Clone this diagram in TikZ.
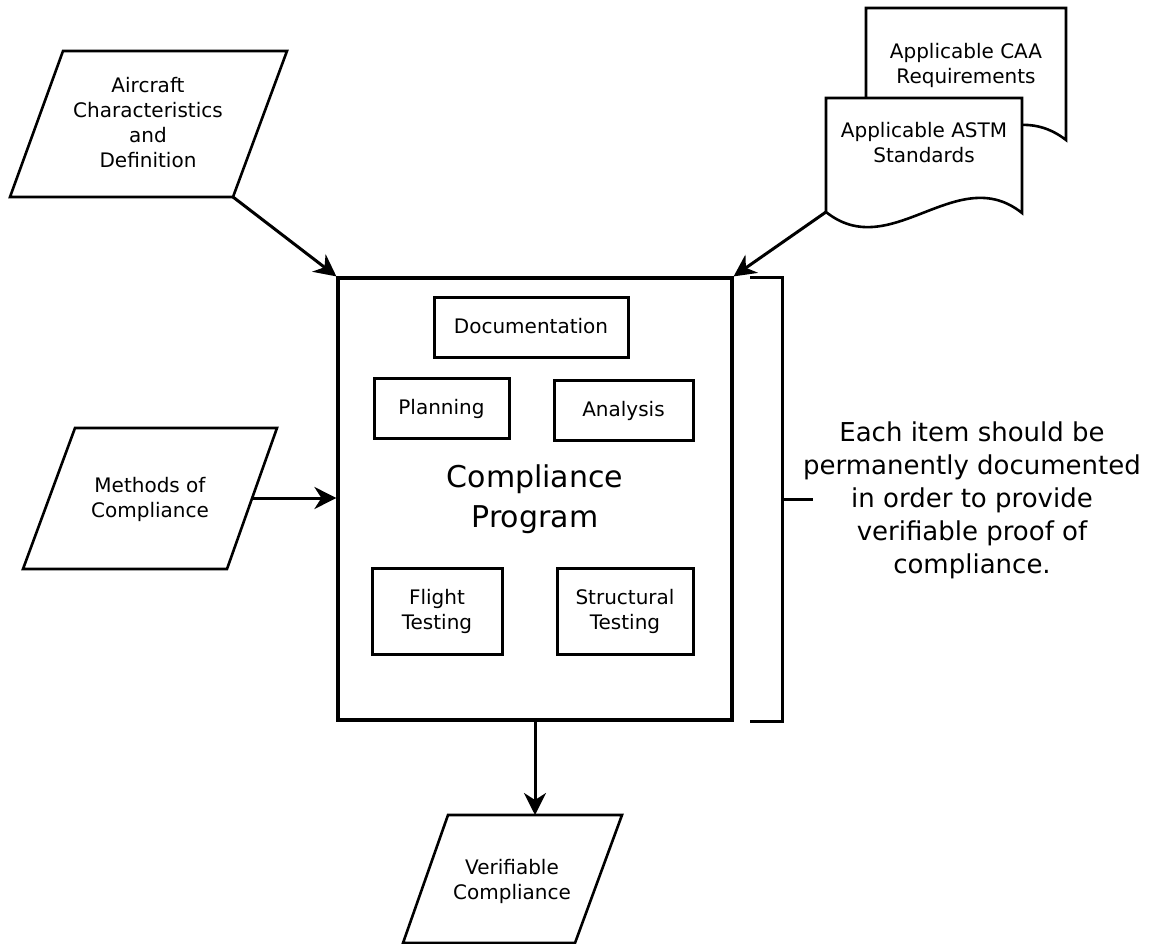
\documentclass[tikz,border=0pt]{standalone}
\usepackage{fontspec}
\setmainfont{DejaVu Sans}
\usetikzlibrary{arrows.meta}
\tikzset{
  sm/.style={font=\fontsize{20}{25}\selectfont},
  lbl/.style={sm, align=center, inner sep=0pt},
  inbox/.style={draw, line width=3pt, inner sep=0pt, align=center, sm},
  oneline/.style={text height=16pt, text depth=4pt},
  shapeline/.style={draw, line width=2.6pt, line join=miter, fill=white},
  conn/.style={line width=3pt, -{Stealth[length=22pt,width=22pt,inset=7pt]}},
}
\begin{document}
\begin{tikzpicture}[x=1pt,y=-1pt]
\useasboundingbox (0,0) rectangle (1154,944);

% main program box
\node[draw, line width=3.2pt, minimum width=394pt, minimum height=442pt, inner sep=0pt,
      align=center, font=\fontsize{30}{40}\selectfont] (main) at (535,499) {Compliance\\Program};

% inner boxes
\node[inbox, oneline, minimum width=194pt, minimum height=60pt] (doc) at (531,327) {Documentation};
\node[inbox, oneline, minimum width=135pt, minimum height=60pt] (plan) at (441.5,408) {Planning};
\node[inbox, oneline, minimum width=139pt, minimum height=60pt] (ana) at (623.5,410) {Analysis};
\node[inbox, minimum width=130pt, minimum height=86pt] (flt) at (437,611) {Flight\\Testing};
\node[inbox, minimum width=136pt, minimum height=86pt] (str) at (625,611) {Structural\\Testing};

% Aircraft parallelogram
\draw[shapeline] (63,51) -- (287,51) -- (233,197) -- (10,197) -- cycle;
\coordinate (acB) at (233,197);
\node[lbl] (ac) at (148,123) {Aircraft\\Characteristics\\and\\Definition};

% Methods parallelogram
\draw[shapeline] (75,428) -- (277,428) -- (227,569) -- (23,569) -- cycle;
\coordinate (mcR) at (252,498);
\node[lbl] (mc) at (150,499) {Methods of\\Compliance};

% Verifiable parallelogram
\draw[shapeline] (448,815) -- (622,815) -- (575,943) -- (403,943) -- cycle;
\coordinate (vcT) at (535,815);
\node[lbl] (vc) at (512,881) {Verifiable\\Compliance};

% CAA document (back)
\draw[shapeline] (866,8) -- (1066,8) -- (1066,140) .. controls (999,88) and (933,191) .. (866,139) -- cycle;
\node[lbl] (caa) at (966,65) {Applicable CAA\\Requirements};

% ASTM document (front)
\draw[shapeline] (826,98) -- (1022,98) -- (1022,213) .. controls (957,161) and (891,264) .. (826,212) -- cycle;
\coordinate (astmBL) at (826,212);
\node[lbl] (astm) at (924,143) {Applicable ASTM\\Standards};

% connectors
\draw[conn] (acB) -- (main.north west);
\draw[conn] (astmBL) -- (main.north east);
\draw[conn] (mcR) -- (mcR -| main.west);
\draw[conn] (main.south) -- (vcT);

% bracket
\coordinate (brT) at (750,277);
\coordinate (brB) at (750,721);
\coordinate (brM) at (782,499);
\coordinate (brTip) at (813,499);
\draw[line width=3pt] (brT) -- (782,277) -- (782,721) -- (brB);
\draw[line width=3pt] (brM) -- (brTip);

\node[align=center, inner sep=0pt, font=\fontsize{26}{33}\selectfont] (note) at (972,500)
  {Each item should be\\permanently documented\\in order to provide\\verifiable proof of\\compliance.};
\end{tikzpicture}
\end{document}
